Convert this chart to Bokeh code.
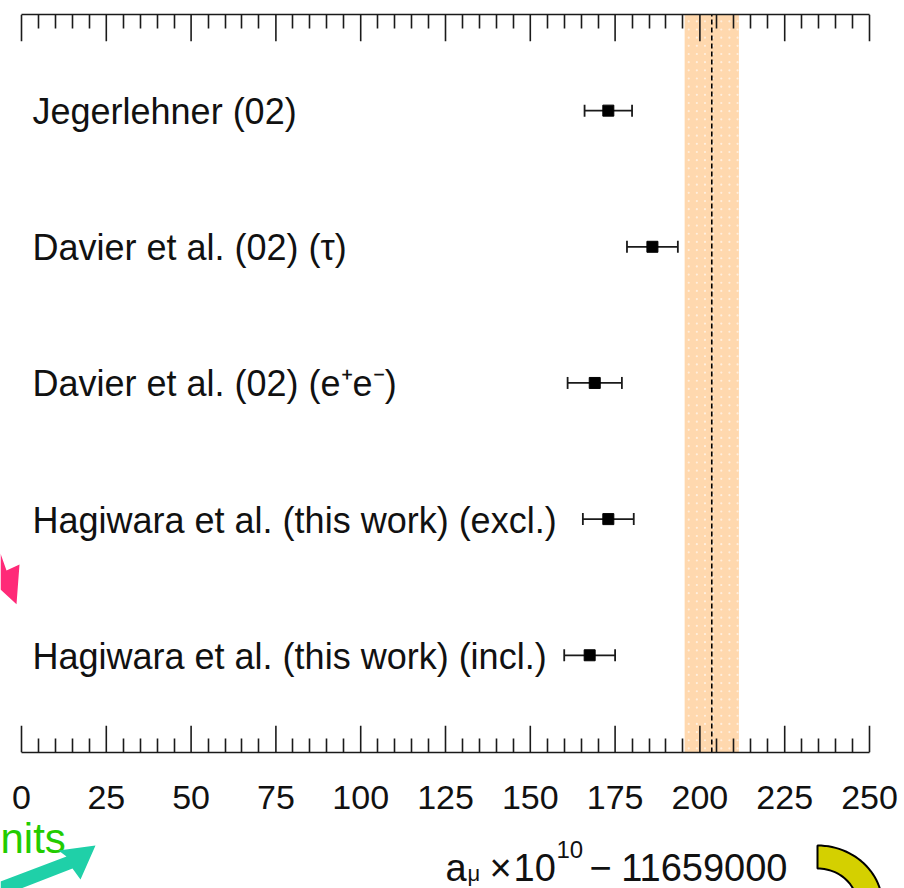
import numpy as np
from bokeh.plotting import figure
from bokeh.layouts import column
from bokeh.models import Range1d, LinearAxis, FixedTicker, ColumnDataSource
from bokeh.core.properties import value
from bokeh.embed import file_html
from bokeh.resources import INLINE

# ---------------- data ----------------
labels = ["Hagiwara et al. (this work) (incl.)",
          "Hagiwara et al. (this work) (excl.)",
          "Davier et al. (02) (e\u207ae\u207b)",
          "Davier et al. (02) (\u03c4)",
          "Jegerlehner (02)"]
rows = [1, 2, 3, 4, 5]
central = [167.5, 173.0, 169.0, 186.0, 173.0]
errors = [7.5, 7.5, 8.0, 7.5, 7.0]
exp_value = 203.5
exp_error = 8.0
x_ticks = [0, 25, 50, 75, 100, 125, 150, 175, 200, 225, 250]
x_tick_labels = ["0", "25", "50", "75", "100", "125", "150", "175", "200", "225", "250"]
x_minor_ticks = [m for m in range(0, 251, 5) if m % 25 != 0]

# ---------------- layout constants (canvas pixels) ----------------
W, H = 904, 888
X0PX, X250PX = 21, 869          # where 0 and 250 sit
FT, FB = 14, 756                # frame top / bottom of main panel
H1 = 758                        # height of main panel
PXU = (X250PX - X0PX) / 250.0   # pixels per unit
Y_LO, Y_HI = 0.286, 5.706
PYU = (FB - FT) / (Y_HI - Y_LO)
INK = "#1a1a1a"
MAJOR_LEN = 27                  # px

xr = Range1d(-X0PX / PXU, 250 + (W - X250PX) / PXU)


def dx(cx):      # canvas x -> data x
    return (cx - X0PX) / PXU


def dy(cy):      # canvas y -> data y (main panel)
    return Y_LO + (FB - cy) / PYU


src = ColumnDataSource(dict(
    label=labels, row=rows, central=central,
    lo=[c - e for c, e in zip(central, errors)],
    hi=[c + e for c, e in zip(central, errors)],
))

p = figure(width=W, height=H1, output_backend="svg", toolbar_location=None,
           tools="", x_range=xr, y_range=Range1d(Y_LO, Y_HI), y_axis_location=None,
           min_border_left=0, min_border_right=0,
           min_border_top=FT, min_border_bottom=H1 - FB)
p.outline_line_color = None
p.grid.visible = False
p.background_fill_color = "white"
p.border_fill_color = "white"

# experimental band + central value
p.quad(left=[exp_value - exp_error], right=[exp_value + exp_error],
       bottom=[Y_LO], top=[Y_HI], fill_color="#FFD8AE", line_color=None)
# faint dotted texture of the band
gx, gy = np.meshgrid(np.arange(exp_value - exp_error + 1.2, exp_value + exp_error, 2.4),
                     np.arange(Y_LO + 0.03, Y_HI, 0.06))
p.scatter(x=gx.ravel(), y=gy.ravel(), marker="circle", size=2.2,
          fill_color="white", fill_alpha=0.6, line_color=None)
p.segment(x0=[exp_value], x1=[exp_value], y0=[Y_LO], y1=[Y_HI],
          line_color="black", line_dash="5 3", line_width=1.6)

# error bars + points
p.segment(x0="lo", x1="hi", y0="row", y1="row", source=src,
          line_color=INK, line_width=1.8)
p.scatter(x="lo", y="row", source=src, marker="dash", angle=np.pi / 2, size=12,
          line_color=INK, line_width=1.8)
p.scatter(x="hi", y="row", source=src, marker="dash", angle=np.pi / 2, size=12,
          line_color=INK, line_width=1.8)
p.scatter(x="central", y="row", source=src, marker="square", size=11,
          fill_color="black", line_color="black")

# row labels
p.text(x=0, y="row", text="label", source=src, x_offset=11, y_offset=1,
       text_font=value("Liberation Sans"), text_font_size="36px",
       text_baseline="middle", text_align="left", text_color="#111111")

# axes (top and bottom): axis line + inward minor ticks
bottom = p.xaxis[0]
top = LinearAxis()
p.add_layout(top, "above")
for ax in (bottom, top):
    ax.bounds = (0, 250)
    ax.ticker = FixedTicker(ticks=x_ticks, minor_ticks=x_minor_ticks)
    ax.major_tick_line_color = None
    ax.minor_tick_in = 14
    ax.minor_tick_out = 0
    ax.axis_line_width = 1.6
    ax.axis_line_color = INK
    ax.minor_tick_line_width = 1.6
    ax.minor_tick_line_color = INK
    ax.major_label_text_font_size = "0px"
    ax.major_label_text_alpha = 0
    ax.major_label_standoff = 0

# inward major ticks at the labelled values (top and bottom)
tick_d = MAJOR_LEN / PYU
p.segment(x0=x_ticks, x1=x_ticks, y0=[Y_HI] * len(x_ticks),
          y1=[Y_HI - tick_d] * len(x_ticks), line_color=INK, line_width=1.6)
p.segment(x0=x_ticks, x1=x_ticks, y0=[Y_LO] * len(x_ticks),
          y1=[Y_LO + tick_d] * len(x_ticks), line_color=INK, line_width=1.6)

# pink arrow head (slide overlay) at the left edge
pink = [(0, 556), (6, 573), (19, 567), (16, 607), (0, 592)]
p.patch(x=[dx(a) for a, b in pink], y=[dy(b) for a, b in pink],
        fill_color="#FF2A78", line_color=None)

# ---------------- lower panel: tick labels, axis title, overlays ----------------
p2 = figure(width=W, height=H - H1, output_backend="svg", toolbar_location=None,
            tools="", x_range=xr, y_range=Range1d(H, H1), x_axis_location=None,
            y_axis_location=None, min_border=0)
p2.outline_line_color = None
p2.grid.visible = False
p2.background_fill_color = "white"
p2.border_fill_color = "white"

p2.text(x=x_ticks, y=[797] * len(x_ticks), text=x_tick_labels,
        text_font=value("Liberation Sans"), text_font_size="34px",
        text_align="center", text_baseline="middle", text_color="#111111")


def piece(text, cx, cy, size, align="left"):
    p2.text(x=[dx(cx)], y=[cy], text=[text], text_font=value("Liberation Sans"),
            text_font_size=size, text_color="#111111",
            text_baseline="middle", text_align=align)


piece("a", 445, 867, "38px")
piece("\u03bc", 467, 873, "22px")
piece("\u00d7", 489, 867, "38px")
piece("10", 513, 867, "38px")
piece("10", 556, 849, "24px")
piece("\u2212", 589, 867, "38px")
piece("11659000", 787, 867, "38px", align="right")

# green text, teal arrow, yellow curved arrow (slide overlays)
p2.text(x=[dx(0)], y=[838], text=["nits"],
        text_font=value("Liberation Sans"),
        text_font_size="42px", text_color="#22CC00", text_baseline="middle",
        text_align="left")
teal = [(0, 881), (66, 856), (58, 850), (95, 845), (80, 879), (72, 868), (0, 896)]
p2.patch(x=[dx(a) for a, b in teal], y=[b for a, b in teal],
         fill_color="#1FD0A8", line_color=None)
t = np.linspace(np.pi / 2, -np.pi / 5, 40)
ox = 817 + 65 * np.cos(t)
oy = 905 - 60 * np.sin(t)
ix = 817 + 40 * np.cos(t[::-1])
iy = 905 - 37 * np.sin(t[::-1])
p2.patch(x=[dx(a) for a in list(ox) + list(ix)], y=list(oy) + list(iy),
         fill_color="#D4D000", line_color="black", line_width=2)

layout = column(p, p2, spacing=0)
open("out.html", "w").write(file_html(layout, INLINE))
